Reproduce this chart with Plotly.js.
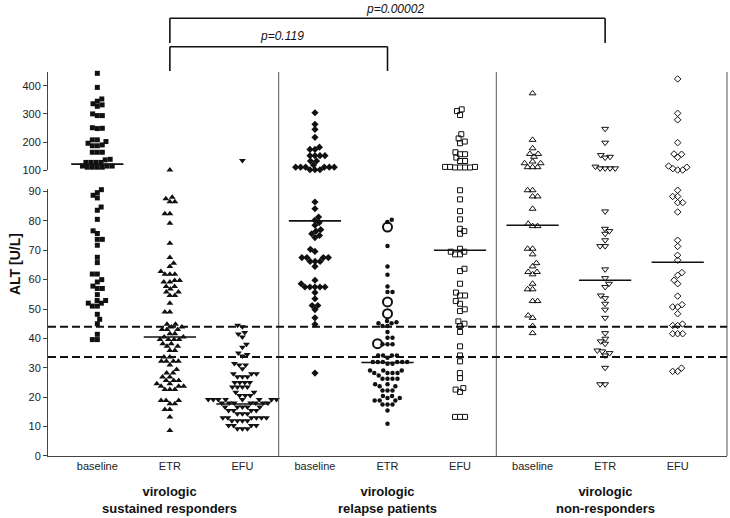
<!DOCTYPE html>
<html><head><meta charset="utf-8">
<script src="https://cdn.plot.ly/plotly-3.0.1.min.js"></script>
<style>html,body{margin:0;padding:0;background:#fff}#chart{width:730px;height:518px}</style>
</head><body><div id="chart"></div>
<script>
// ---------- data ----------
const categories = ['baseline', 'ETR', 'EFU'];
const groupLabels = ['virologic<br>sustained responders', 'virologic<br>relapse patients', 'virologic<br>non-responders'];
const lowerTicks = [0, 10, 20, 30, 40, 50, 60, 70, 80, 90];
const upperTicks = [100, 200, 300, 400];
const normalLimits = [44, 33.7];
const medians = [122, 40.5, 17.7, 80, 31.8, 70, 78.5, 59.8, 65.9];
const pLabels = ['p=0.119', 'p=0.00002'];

// sustained responders
const srBaseline = [444, 394, 353, 345, 336, 332, 327, 300, 294, 294, 251, 249, 248, 208, 208, 202, 196, 190, 187, 187, 164, 164, 164, 139, 137, 128, 128, 128, 128, 115, 115, 115, 111, 111, 111, 111,
  90.6, 89.6, 88.7, 87.8, 84.7, 83.6, 80.5, 76.6, 75.7, 73.7, 73.7, 71.7, 67.6, 65.8, 61.9, 61.9, 60, 59.2, 57.8, 57, 57, 54.9, 52.9, 52.9, 52, 52, 51, 51, 48.2, 46.5, 45, 41.4, 39.6, 39.6];
const srETR = [101, 88, 87.5, 86.5, 86.5, 82.4, 82.4, 79.2, 72.4, 67.5, 65.6, 64.5, 62.8, 61.8, 61.8, 61.8, 59.7, 59.7, 59.2, 59.2, 57.7, 57.7, 56.8, 55.8, 55.8, 54.6, 54.6, 52, 49, 49,
  44.8, 44.8, 43.9, 43.9, 43, 43, 43, 41.6, 41.6, 40.5, 40.5, 39.6, 39.6, 39.6, 39.6, 38.2, 38.2, 37.3, 37.3, 35.9, 35.9, 33.7, 33.7, 32.2, 32.2, 32.2, 32.2, 31, 29.4, 28.2, 28.2,
  26.9, 26.9, 25.7, 25.7, 25.7, 24.6, 24.6, 23.7, 23.7, 23.7, 22.6, 22.6, 22.6, 18.9, 18.9, 18.9, 17.8, 17.8, 15.8, 15.8, 13.3, 8.7];
const srEFU = [135, 44.5, 44, 42, 41.5, 40.5, 38, 37, 35, 34.5, 34, 31.5, 31, 31, 29.7, 28, 28, 28, 27, 27, 27, 25, 25, 25, 25, 23.5, 23.5, 23.5, 23.5, 21.7, 21.7, 20.6, 20.6, 20.6,
  19.2, 19.2, 19.2, 19.2, 19.2, 19.2, 19.2, 19.2, 18, 18, 18, 18, 18, 18, 18, 16.7, 16.7, 16.7, 16.7, 16.7, 15.5, 15.5, 15.5, 15.5, 14.4, 14.4, 14.4,
  13, 13, 13, 13, 13, 13, 12, 12, 12, 12, 10.4, 10.4, 10.4, 10.4, 9.3, 9.3, 9.3];
// relapse patients
const rlBaseline = [304, 263, 245, 217, 182, 174, 174, 152, 152, 152, 152, 133, 133, 119, 111, 111, 111, 111, 111, 111, 102, 102, 102,
  86.4, 84.1, 81.3, 80.2, 79.4, 78.5, 77, 76.5, 75.6, 75, 74.3, 70.3, 69.6, 67.5, 67.5, 67.5, 67.5, 66.2, 66.2, 66.2, 64.5, 59.8, 58.6, 57.5, 57.5, 57.5, 57.5, 57.5, 55.6, 53.5, 51.2, 51.2, 49.8, 47, 44.8, 28.2];
const rlETR = [80.4, 79.6, 71.4, 64.5, 61.7, 57.7, 55.8, 55.8, 45.9, 45.5, 45.2, 45.2, 44.2, 44.2, 42.2, 40.2, 40.2, 38, 38, 38, 34.2, 34.2, 34.2, 34.2, 33.4, 32, 32, 32, 32, 32, 32, 31.4, 31.4,
  29.1, 29.1, 29.1, 28.2, 28.2, 28.2, 28.2, 27.4, 26.3, 26.3, 26.3, 26.3, 24.4, 24.4, 23.7, 23.7, 22.3, 22.3, 22.3, 20.4, 20.4, 19.7, 19.7, 18.9, 18.9, 18.9, 17.5, 17.5, 17.5, 15.5, 11];
const rlETROpen = [77.9, 52.4, 48.4, 38.2];
const rlEFU = [316, 310, 296, 228, 213, 202, 196, 164, 157, 157, 145, 133, 133, 112, 112, 110, 110, 110, 110, 112,
  90.4, 87.3, 83.3, 80.5, 77.3, 76.5, 75.6, 70.5, 69.5, 69.5, 68.6, 68.6, 63.7, 62.9, 58.6, 55.6, 54.6, 54.6, 52.7, 51.8, 49.9, 49.3, 45.8, 45, 44.2, 42.2, 37.3, 34.2, 32.2, 28.2, 26.5, 23.1, 22.6, 21.8, 13.3, 13.3, 13.3];
// non-responders
const nrBaseline = [373, 208, 178, 158, 158, 148, 131, 125, 125, 111, 111, 111,
  90.4, 90.4, 88.3, 88.3, 84.1, 79, 78.2, 78.2, 70.5, 70.5, 68.6, 65.6, 64.5, 62.6, 62.6, 61.8, 58.6, 56.7, 56.7, 52.7, 52.7, 47.8, 47, 44.2, 41.8];
const nrETR = [247, 198, 154, 148, 145, 113, 107, 107, 107, 107,
  83.2, 77.3, 76.5, 75.6, 73.4, 71.4, 71.4, 63.5, 60.5, 58.6, 57.5, 54.6, 53.7, 51.8, 49.8, 47, 41.8, 39.9, 39, 38.2, 35.9, 35.6, 35, 34.2, 30, 24.4, 24.4];
const nrEFU = [424, 302, 279, 198, 158, 157, 146, 115, 111, 106, 101, 101,
  90.4, 88.3, 88.3, 86.2, 86.2, 83, 73.4, 71.3, 68.3, 66.6, 62.4, 61.5, 59.8, 58.6, 54.4, 51.5, 50.7, 50.7, 48.4, 44.9, 44.4, 44.4, 41.6, 41.6, 41.6, 29.9, 28.8, 28.8];

// ---------- layout geometry ----------
const W = 730, H = 518;
const M = {l: 48, r: 3, t: 72, b: 62};
const plotW = W - M.l - M.r, plotH = H - M.t - M.b;
const xRange = [-0.68, 8.68];
const lowRange = [0, 91], upRange = [100, 448.6];
const lowDomain = [0, 0.6966], upDomain = [0.744, 1];
const pxPerX = plotW / (xRange[1] - xRange[0]);
const pxLow = plotH * (lowDomain[1] - lowDomain[0]) / (lowRange[1] - lowRange[0]);
const pxUp = plotH * (upDomain[1] - upDomain[0]) / (upRange[1] - upRange[0]);
const BREAK = 95;
const toPx = v => v < BREAK ? v * pxLow : 5000 + v * pxUp;

// beeswarm offsets computed from values
function swarm(vals, d) {
  const pts = vals.map((v, i) => ({v, i, y: toPx(v), x: 0})).sort((a, b) => a.y - b.y);
  const placed = [];
  let toggle = 1;
  for (const p of pts) {
    const near = placed.filter(q => Math.abs(q.y - p.y) < d);
    const cands = [0];
    near.forEach(q => {
      const w = Math.sqrt(d * d - (q.y - p.y) ** 2);
      cands.push(q.x - w, q.x + w);
    });
    cands.sort((a, b) => (Math.abs(a) - Math.abs(b)) || (toggle * (a - b)));
    for (const c of cands) {
      if (near.every(q => Math.hypot(q.x - c, q.y - p.y) >= d - 1e-6)) { p.x = c; break; }
    }
    if (p.x !== 0) toggle = -toggle;
    placed.push(p);
  }
  const out = new Array(vals.length);
  pts.forEach(p => { out[p.i] = p.x / pxPerX; });
  return out;
}

const INK = '#111';
const columns = [
  {vals: srBaseline, symbol: 'square', size: 5},
  {vals: srETR, symbol: 'triangle-up', size: 6},
  {vals: srEFU, symbol: 'triangle-down', size: 6},
  {vals: rlBaseline, symbol: 'diamond', size: 5.5},
  {vals: rlETR, extra: rlETROpen, symbol: 'circle', size: 4.5},
  {vals: rlEFU, symbol: 'square-open', size: 5},
  {vals: nrBaseline, symbol: 'triangle-up-open', size: 6},
  {vals: nrETR, symbol: 'triangle-down-open', size: 6},
  {vals: nrEFU, symbol: 'diamond-open', size: 5}
];

const traces = [];
columns.forEach((col, ci) => {
  const all = col.extra ? col.vals.concat(col.extra) : col.vals;
  const offs = swarm(all, 5);
  const sets = [{from: 0, to: col.vals.length, symbol: col.symbol, size: col.size, lw: col.symbol.endsWith('open') ? 1 : 0}];
  if (col.extra) sets.push({from: col.vals.length, to: all.length, symbol: 'circle-open', size: 9, lw: 2});
  sets.forEach(s => {
    ['low', 'up'].forEach(panel => {
      const xs = [], ys = [];
      for (let i = s.from; i < s.to; i++) {
        const v = all[i];
        if ((panel === 'low') === (v < BREAK)) { xs.push(ci + offs[i]); ys.push(v); }
      }
      if (!xs.length) return;
      traces.push({
        type: 'scatter', mode: 'markers', x: xs, y: ys,
        xaxis: 'x', yaxis: panel === 'low' ? 'y' : 'y2',
        marker: {symbol: s.symbol, size: s.size, color: INK, line: {width: s.lw, color: INK}},
        hoverinfo: 'skip', showlegend: false, cliponaxis: false
      });
    });
  });
});

const LINE = '#444';
const shapes = [];
// group separators and right frame
[2.5, 5.5].forEach(x => shapes.push({type: 'line', xref: 'x', yref: 'paper', x0: x, x1: x, y0: 0, y1: 1, line: {color: '#555', width: 1}}));
shapes.push({type: 'line', xref: 'paper', yref: 'paper', x0: 1, x1: 1, y0: 0, y1: 1, line: {color: '#555', width: 1}});
// normal range dashed lines
normalLimits.forEach(v => shapes.push({type: 'line', xref: 'paper', yref: 'y', x0: 0, x1: 1, y0: v, y1: v, line: {color: INK, width: 2, dash: '8px,4px'}}));
// medians
medians.forEach((m, i) => shapes.push({type: 'line', xref: 'x', yref: m < BREAK ? 'y' : 'y2', x0: i - 0.36, x1: i + 0.36, y0: m, y1: m, line: {color: INK, width: 1.6}}));
// brackets (ETR comparisons)
const py = pix => (H - M.b - pix) / plotH;
function bracket(xa, xb, topPix, legPix) {
  const yt = py(topPix), yl = py(legPix);
  shapes.push({type: 'line', xref: 'x', yref: 'paper', x0: xa, x1: xb, y0: yt, y1: yt, line: {color: INK, width: 1.6}});
  shapes.push({type: 'line', xref: 'x', yref: 'paper', x0: xa, x1: xa, y0: yt, y1: yl, line: {color: INK, width: 1.6}});
  shapes.push({type: 'line', xref: 'x', yref: 'paper', x0: xb, x1: xb, y0: yt, y1: yl, line: {color: INK, width: 1.6}});
}
bracket(1, 4, 46.7, 71);
bracket(1, 7, 18.3, 43);

const FONT = 'Liberation Sans, Arial, Helvetica, sans-serif';
const annotations = [
  {xref: 'x', yref: 'paper', x: 2.55, y: py(36), yanchor: 'middle', xanchor: 'center', text: '<i>' + pLabels[0] + '</i>', showarrow: false, font: {size: 12, color: INK, family: FONT}},
  {xref: 'x', yref: 'paper', x: 4.1, y: py(9), yanchor: 'middle', xanchor: 'center', text: '<i>' + pLabels[1] + '</i>', showarrow: false, font: {size: 12, color: INK, family: FONT}},
  {xref: 'paper', yref: 'paper', x: (15 - M.l) / plotW, y: py(264), yanchor: 'middle', xanchor: 'center', text: '<b>ALT [U/L]</b>', textangle: -90, showarrow: false, font: {size: 14, color: INK, family: FONT}}
];
groupLabels.forEach((g, i) => annotations.push({xref: 'x', yref: 'paper', x: i * 3 + 1, y: py(500), yanchor: 'middle', xanchor: 'center', text: '<b>' + g + '</b>', showarrow: false, font: {size: 13, color: INK, family: FONT}}));

const tickvals = [], ticktext = [];
for (let i = 0; i < 9; i++) { tickvals.push(i); ticktext.push(categories[i % 3]); }

const layout = {
  width: W, height: H, margin: M,
  paper_bgcolor: '#fff', plot_bgcolor: 'rgba(0,0,0,0)',
  font: {family: FONT, size: 11, color: '#222'},
  showlegend: false,
  xaxis: {range: xRange, tickvals, ticktext, showline: true, linecolor: LINE, linewidth: 1, ticks: '', showgrid: false, zeroline: false, anchor: 'y', tickfont: {size: 11, color: '#222'}, fixedrange: true},
  yaxis: {domain: lowDomain, range: lowRange, tickvals: lowerTicks, showline: true, linecolor: LINE, linewidth: 1, ticks: 'outside', ticklen: 4, tickcolor: LINE, showgrid: false, zeroline: false, tickfont: {size: 11, color: '#222'}, fixedrange: true},
  yaxis2: {domain: upDomain, range: upRange, tickvals: upperTicks, showline: true, linecolor: LINE, linewidth: 1, ticks: 'outside', ticklen: 4, tickcolor: LINE, showgrid: false, zeroline: false, anchor: 'x', tickfont: {size: 11, color: '#222'}, fixedrange: true},
  shapes, annotations
};

Plotly.newPlot('chart', traces, layout, {displayModeBar: false, staticPlot: true});
</script></body></html>
